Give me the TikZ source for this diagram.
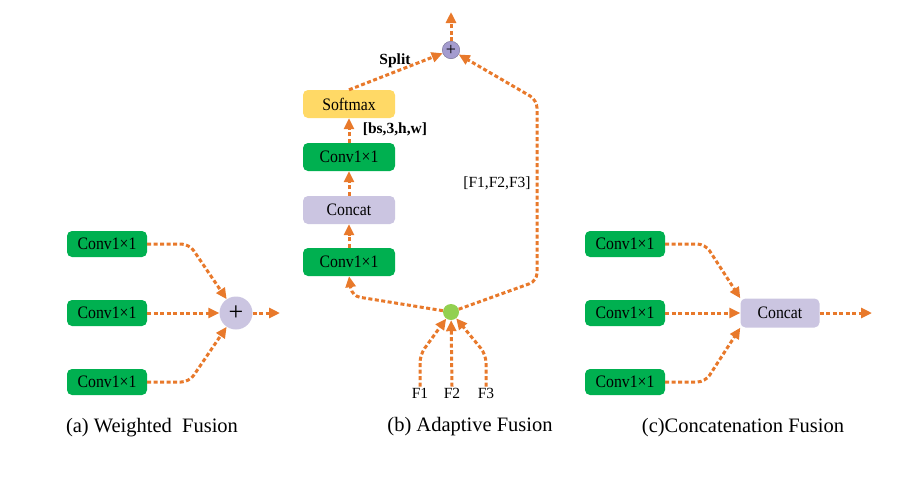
\documentclass[tikz,border=0pt]{standalone}
\usepackage{fontspec}
\setmainfont{Liberation Serif}
\usetikzlibrary{arrows.meta}
\definecolor{bgreen}{HTML}{00B050}
\definecolor{lav}{HTML}{CBC5E1}
\definecolor{dlav}{HTML}{A49CCF}
\definecolor{ylw}{HTML}{FFD966}
\definecolor{orng}{HTML}{E8792B}
\definecolor{lgreen}{HTML}{92D050}
\newcommand{\sqz}[1]{\scalebox{0.9}[1]{#1}}
\begin{document}
\begin{tikzpicture}[x=1pt,y=-1pt,
  boxbase/.style={rounded corners=5pt, inner sep=0pt, font=\fontsize{17.5}{20}\selectfont},
  conv/.style={boxbase, fill=bgreen, minimum width=80pt, minimum height=26pt},
  wide/.style={boxbase, minimum width=92pt, minimum height=28pt},
  flow/.style={draw=orng, line width=3pt, dash pattern=on 4pt off 2.5pt,
    -{Triangle[length=11pt,width=10pt,fill=orng]}, rounded corners=8pt},
  lbl/.style={font=\fontsize{15.5}{18}\selectfont, inner sep=1pt},
  captxt/.style={font=\fontsize{20.5}{24}\selectfont, inner sep=0pt}]
\useasboundingbox (0,0) rectangle (918,477);

% ---------- (a) ----------
\node[conv] (a1) at (107,244) {\sqz{Conv1×1}};
\node[conv] (a2) at (107,313) {\sqz{Conv1×1}};
\node[conv] (a3) at (107,382) {\sqz{Conv1×1}};
\node[circle, fill=lav, minimum size=33pt, inner sep=0pt, font=\fontsize{26}{26}\selectfont] (aplus) at (236,313) {+};
\coordinate (aout) at (280,313);
\draw[flow] (a1.east) -- ++(42,0) -- (aplus);
\draw[flow] (a2.east) -- (aplus.west);
\draw[flow] (a3.east) -- ++(42,0) -- (aplus);
\draw[flow] (aplus.east) -- (aout);
\node[captxt] (capa) at (152,428) {(a) Weighted\ \ Fusion};

% ---------- (b) ----------
\node[circle, fill=dlav, draw=dlav!70!black, line width=0.4pt, minimum size=17.5pt, inner sep=0pt, font=\fontsize{18}{18}\selectfont] (bplus) at (451,50) {+};
\coordinate (bout) at (451,12);
\node[wide, fill=ylw] (smax) at (349,104) {\sqz{Softmax}};
\node[wide, fill=bgreen] (bc2) at (349,157) {\sqz{Conv1×1}};
\node[wide, fill=lav] (bcat) at (349,210) {\sqz{Concat}};
\node[wide, fill=bgreen] (bc1) at (349,262) {\sqz{Conv1×1}};
\node[circle, fill=lgreen, minimum size=16pt, inner sep=0pt] (gdot) at (451,312) {};
\node[lbl] (f1) at (420,393) {F1};
\node[lbl] (f2) at (452,393) {F2};
\node[lbl] (f3) at (486,393) {F3};

\draw[flow] (bplus.north) -- (bout);
\draw[flow] (smax.north) -- (bplus);
\draw[flow] (bc2.north) -- (smax.south);
\draw[flow] (bcat.north) -- (bc2.south);
\draw[flow] (bc1.north) -- (bcat.south);
\draw[flow] (gdot) -- (352,296) -- (bc1.south);
\draw[flow] (gdot) -- (537,281) -- (537,100) -- (bplus);
\draw[flow] (f1.north) -- ++(0,-32) -- (gdot);
\draw[flow] (f2.north) -- (gdot);
\draw[flow] (f3.north) -- ++(0,-32) -- (gdot);

\node[lbl, font=\fontsize{15.5}{18}\selectfont\bfseries] (split) at (395,61) {Split};
\node[lbl, font=\fontsize{15.5}{18}\selectfont\bfseries] (shape) at (395,129) {[bs,3,h,w]};
\node[lbl] (flist) at (497,183) {[F1,F2,F3]};
\node[captxt] (capb) at (470,427) {(b) Adaptive Fusion};

% ---------- (c) ----------
\node[conv] (c1) at (625,244) {\sqz{Conv1×1}};
\node[conv] (c2) at (625,313) {\sqz{Conv1×1}};
\node[conv] (c3) at (625,382) {\sqz{Conv1×1}};
\node[boxbase, fill=lav, minimum width=79pt, minimum height=29pt] (ccat) at (780,313) {\sqz{Concat}};
\coordinate (cout) at (872,313);
\draw[flow] (c1.east) -- ++(40,0) -- (ccat.north west);
\draw[flow] (c2.east) -- (ccat.west);
\draw[flow] (c3.east) -- ++(40,0) -- (ccat.south west);
\draw[flow] (ccat.east) -- (cout);
\node[captxt] (capc) at (743,428) {(c)Concatenation Fusion};
\end{tikzpicture}
\end{document}
